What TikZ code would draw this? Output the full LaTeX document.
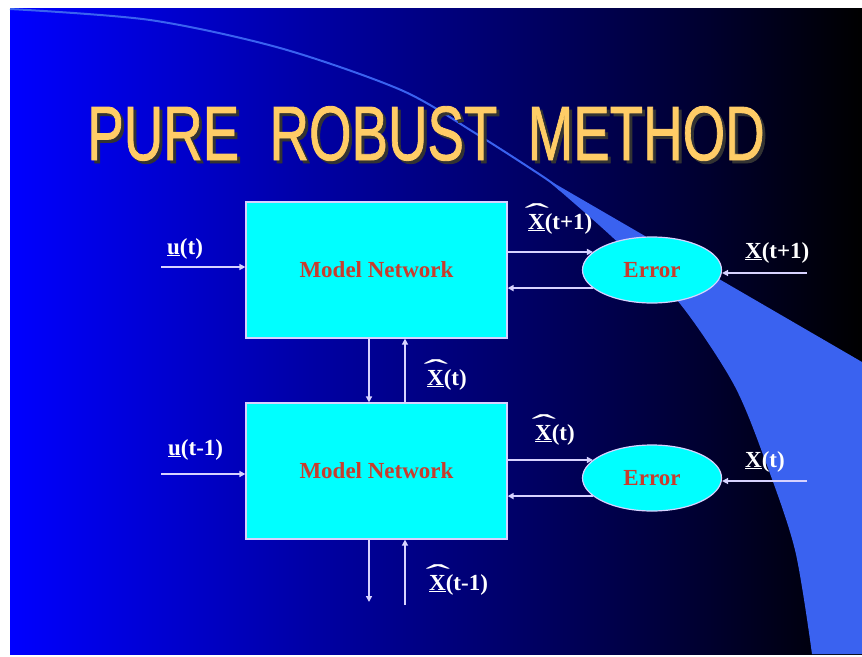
\RequirePackage{fix-cm}
\documentclass[tikz,border=0pt]{standalone}
\usepackage{fontspec}
\usepackage{graphicx}
\setmainfont{Liberation Serif}
\newfontfamily\titlefont[FakeBold=1.2]{Liberation Sans}
\usetikzlibrary{shapes.geometric,arrows.meta,calc}
\definecolor{bgblue}{RGB}{0,0,255}
\definecolor{wedgec}{RGB}{58,98,240}
\definecolor{cyanbox}{RGB}{0,255,255}
\definecolor{boxtext}{RGB}{200,60,45}
\definecolor{arrowc}{RGB}{215,210,255}
\definecolor{titlec}{RGB}{255,204,102}
\newcommand{\lblsize}{\bfseries\fontsize{23}{26}\selectfont}
\newcommand{\hatX}{\rlap{\kern-3.5pt\raisebox{5pt}{\scalebox{3.2}[1.3]{\mdseries\symbol{"02C6}}}}\underline{X}}
\newcommand{\ttltext}{\scalebox{0.71}[1]{PURE\ \ ROBUST\ \ METHOD}}
\begin{document}
\begin{tikzpicture}[x=1pt,y=-1pt,
  box/.style={draw=arrowc, line width=1.2pt, fill=cyanbox, minimum width=261pt, minimum height=136pt, inner sep=0pt, text=boxtext, font=\lblsize},
  err/.style={ellipse, draw=arrowc, line width=1.2pt, fill=cyanbox, minimum width=139pt, minimum height=66pt, inner sep=0pt, text=boxtext, font=\lblsize},
  arr/.style={draw=arrowc, line width=2pt, -{Triangle[length=6pt,width=6pt]}},
  lbl/.style={text=white, inner sep=0pt, anchor=base west, font=\lblsize},
  ttl/.style={inner sep=0pt, anchor=base, font=\titlefont\fontsize{77}{80}\selectfont}]
% page
\useasboundingbox (0,0) rectangle (862,656);
\fill[white] (0,0) rectangle (862,656);
\shade[left color=bgblue, right color=black] (10,8) rectangle (862,654);
% wedge
\fill[wedgec] plot[smooth] coordinates {(545,178) (610,235) (677,300) (733,383) (765,460) (795,550) (812,654)} -- (862,654) -- (862,362) -- cycle;
\draw[wedgec, line width=2pt] plot[smooth] coordinates {(10,9) (150,20) (280,48) (401,90) (475,133) (545,178) (560,190)};
% title (with shadow)
\node[ttl, text=titlec] (title) at (426,160) {\rlap{\color{black!80}\kern3pt\raisebox{-3pt}{\ttltext}}\ttltext};
% blocks
\node[box] (m1) at (376.5,270) {Model Network};
\node[box] (m2) at (376.5,471) {Model Network};
\node[err] (e1) at (652,270) {Error};
\node[err] (e2) at (652,478) {Error};
% coordinates for free ends
\coordinate (u1) at (161,267);
\coordinate (u2) at (161,474);
\coordinate (x1) at (807,273);
\coordinate (x2) at (807,481);
\coordinate (dx) at (369,0);
\coordinate (ux) at (405,0);
\coordinate (d3) at (369,602);
\coordinate (u3) at (405,605);
% connectors
\draw[arr] (u1) -- (m1.west |- u1);
\draw[arr] (u2) -- (m2.west |- u2);
\draw[arr] (m1.east |- e1.163) -- (e1.163);
\draw[arr] (e1.197) -- (m1.east |- e1.197);
\draw[arr] (m2.east |- e2.163) -- (e2.163);
\draw[arr] (e2.197) -- (m2.east |- e2.197);
\draw[arr] (x1) -- (e1.east |- x1);
\draw[arr] (x2) -- (e2.east |- x2);
\draw[arr] (m1.south -| dx) -- (m2.north -| dx);
\draw[arr] (m2.north -| ux) -- (m1.south -| ux);
\draw[arr] (m2.south -| d3) -- (d3);
\draw[arr] (u3) -- (m2.south -| u3);
% labels
\node[lbl] (lu1) at (167,254) {\underline{u}(t)};
\node[lbl] (lu2) at (168,455) {\underline{u}(t-1)};
\node[lbl] (lh1) at (528,229) {\hatX(t+1)};
\node[lbl] (lx1) at (745,258) {\underline{X}(t+1)};
\node[lbl] (lh2) at (427,385) {\hatX(t)};
\node[lbl] (lh3) at (535,440) {\hatX(t)};
\node[lbl] (lx2) at (745,467) {\underline{X}(t)};
\node[lbl] (lh4) at (429,590) {\hatX(t-1)};
\end{tikzpicture}
\end{document}
